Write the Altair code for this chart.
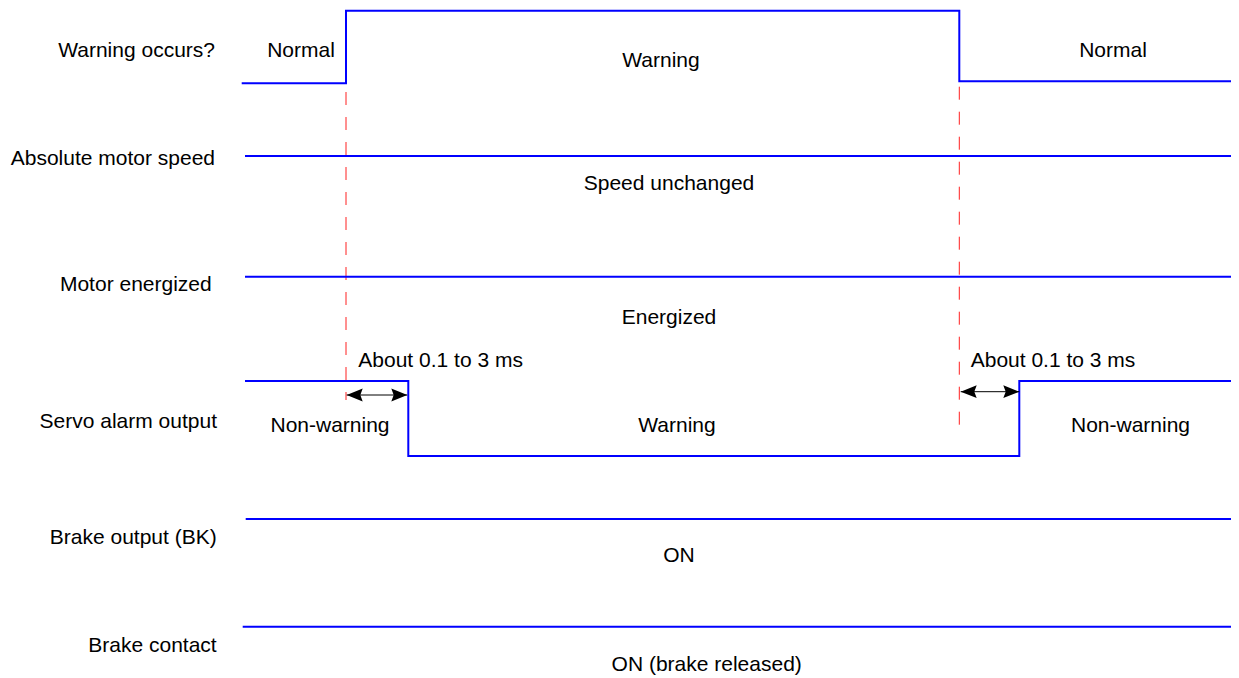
import altair as alt
import pandas as pd

FONT = "Liberation Sans"
FS = 21
W, H = 1223, 670

# ---- signal waveforms: time (horizontal) and level (vertical position) ----
warn_t = [233.7, 338, 338, 951.3, 951.3, 1231]
warn_lvl = [75.3, 75.3, 2.7, 2.7, 73.3, 73.3]
speed_t = [237, 1231]
speed_lvl = [148, 148]
energ_t = [237, 1231]
energ_lvl = [268.7, 268.7]
alarm_t = [237, 400.3, 400.3, 1011.3, 1011.3, 1231]
alarm_lvl = [373, 373, 448, 448, 373, 373]
bk_t = [237.7, 1231]
bk_lvl = [511, 511]
bc_t = [234.7, 1231]
bc_lvl = [618.7, 618.7]

signals = {
    "Warning occurs?": (warn_t, warn_lvl),
    "Absolute motor speed": (speed_t, speed_lvl),
    "Motor energized": (energ_t, energ_lvl),
    "Servo alarm output": (alarm_t, alarm_lvl),
    "Brake output (BK)": (bk_t, bk_lvl),
    "Brake contact": (bc_t, bc_lvl),
}

# ---- row labels (left, right-aligned) ----
label_text = list(signals.keys())
label_x = [207, 207, 203.7, 209, 208.7, 208.7]
label_y = [49.3, 157, 282.7, 419.5, 536, 643.7]

# ---- state annotations (centred) ----
state_text = ["Normal", "Warning", "Normal", "Speed unchanged", "Energized",
              "Non-warning", "Warning", "Non-warning", "ON", "ON (brake released)"]
state_x = [293, 653, 1105, 661, 661, 322, 669, 1122.5, 671, 698.7]
state_y = [48.7, 58.7, 48.7, 182, 315.5, 424.3, 424.3, 424.3, 553.5, 662.7]

# ---- delay annotations ----
delay_text = ["About 0.1 to 3 ms", "About 0.1 to 3 ms"]
delay_x = [350.3, 962.7]
delay_y = [358.7, 358.7]

# ---- dashed event markers ----
marker_t = [338, 951.3]
marker_top = [84, 78.7]
marker_bot = [392, 417]

# ---- delay arrows ----
arrow_t0 = [338.7, 952.7]
arrow_t1 = [399.3, 1011.3]
arrow_lvl = [387, 383.7]

rows = []
for name, (ts, ls) in signals.items():
    for i, (t, l) in enumerate(zip(ts, ls)):
        rows.append({"signal": name, "order": i, "t": t, "lvl": l})
wave_df = pd.DataFrame(rows)

xs = alt.Scale(domain=[0, W], nice=False, zero=False)
ys = alt.Scale(domain=[H, 0], nice=False, zero=False)
X = lambda f: alt.X(f, scale=xs, axis=None)
Y = lambda f: alt.Y(f, scale=ys, axis=None)

waves = alt.Chart(wave_df).mark_line(color="#0000ff", strokeWidth=2, interpolate="linear", clip=True).encode(
    x=X("t:Q"), y=Y("lvl:Q"), detail="signal:N", order="order:Q")

mk_df = pd.DataFrame({"t": marker_t, "top": marker_top, "bot": marker_bot})
markers = alt.Chart(mk_df).mark_rule(color="#ff2020", strokeWidth=1, strokeDash=[13, 12]).encode(
    x=X("t:Q"), y=Y("top:Q"), y2="bot:Q")

ar_df = pd.DataFrame({"t0": arrow_t0, "t1": arrow_t1, "lvl": arrow_lvl})
shafts = alt.Chart(ar_df).mark_rule(color="black", strokeWidth=1).encode(
    x=X("t0:Q"), x2="t1:Q", y=Y("lvl:Q"))
head_l = alt.Chart(ar_df).mark_point(
    shape="M 0 0 L 2 -0.8 L 1.7 0 L 2 0.8 Z", filled=True, color="black", opacity=1, size=256, strokeWidth=0
).encode(x=X("t0:Q"), y=Y("lvl:Q"))
head_r = alt.Chart(ar_df).mark_point(
    shape="M 0 0 L -2 -0.8 L -1.7 0 L -2 0.8 Z", filled=True, color="black", opacity=1, size=256, strokeWidth=0
).encode(x=X("t1:Q"), y=Y("lvl:Q"))

lab_df = pd.DataFrame({"text": label_text, "x": label_x, "y": label_y})
labels = alt.Chart(lab_df).mark_text(align="right", baseline="alphabetic", font=FONT, fontSize=FS, color="black").encode(
    x=X("x:Q"), y=Y("y:Q"), text="text:N")

st_df = pd.DataFrame({"text": state_text, "x": state_x, "y": state_y})
states = alt.Chart(st_df).mark_text(align="center", baseline="alphabetic", font=FONT, fontSize=FS, color="black").encode(
    x=X("x:Q"), y=Y("y:Q"), text="text:N")

dl_df = pd.DataFrame({"text": delay_text, "x": delay_x, "y": delay_y})
delays = alt.Chart(dl_df).mark_text(align="left", baseline="alphabetic", font=FONT, fontSize=FS, color="black").encode(
    x=X("x:Q"), y=Y("y:Q"), text="text:N")

chart = alt.layer(markers, waves, shafts, head_l, head_r, labels, states, delays).properties(
    width=W, height=H, autosize=alt.AutoSizeParams(type="none"), padding=0, background="white"
).configure_view(stroke=None)

chart.save("out.html", embed_options={"renderer": "svg", "actions": False})
